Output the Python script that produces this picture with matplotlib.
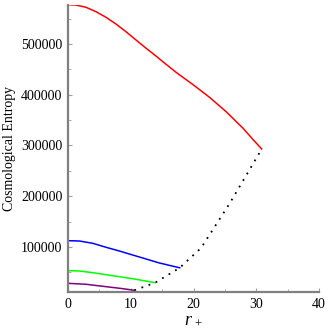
import matplotlib
matplotlib.use("Agg")
import matplotlib.pyplot as plt
from matplotlib.ticker import MultipleLocator

plt.rcParams['font.family'] = ['Liberation Serif', 'DejaVu Serif']
plt.rcParams['mathtext.fontset'] = 'custom'
plt.rcParams['mathtext.rm'] = 'Liberation Serif'
plt.rcParams['mathtext.it'] = 'Liberation Serif:italic'

# entropy curves
red_x = [0, 1.27, 2.87, 4.46, 6.06, 7.65, 9.24, 10.84, 12.43, 14.02, 15.5,
         17.3, 19.97, 22.6, 25.3, 27.9, 29.5, 30.87]
red_y = [577400, 576800, 572300, 563700, 552600, 539400, 524300, 507900, 491800, 476300, 461300,
         443500, 419500, 394500, 365500, 333900, 311500, 293100]

blue_x = [0, 1.8, 3.93, 6.06, 8.18, 10.3, 12.43, 14.55, 17.8]
blue_y = [112400, 111800, 107300, 99400, 92100, 84200, 76400, 68500, 59000]

green_x = [0, 1.8, 3.93, 6.06, 8.18, 10.3, 13.9]
green_y = [53300, 52700, 49400, 45400, 41500, 37500, 29700]

purple_x = [0, 2.87, 6.06, 8.7, 10.57]
purple_y = [28400, 26500, 21800, 17900, 14600]

# dotted locus through the end points
locus_x = [10.57, 13.9, 17.8, 21.2, 25.8, 30.87]
locus_y = [14600, 29700, 59000, 98000, 186700, 293100]

fig = plt.figure(figsize=(3.32, 3.32), dpi=100)
ax = fig.add_axes([0.2048, 0.1205, 0.7562, 0.8653])

ax.plot(red_x, red_y, color='#ff0000', lw=1.1)
ax.plot(blue_x, blue_y, color='#0000ff', lw=1.1)
ax.plot(green_x, green_y, color='#00ff00', lw=1.1)
ax.plot(purple_x, purple_y, color='#800080', lw=1.1)
ax.plot(locus_x, locus_y, color='black', lw=1.3, linestyle=(0, (1, 3.2)))

ax.set_xlim(0, 40)
ax.set_ylim(11300, 577400)
ax.xaxis.set_major_locator(MultipleLocator(10))
ax.xaxis.set_minor_locator(MultipleLocator(5))
ax.yaxis.set_major_locator(MultipleLocator(100000))
ax.yaxis.set_minor_locator(MultipleLocator(50000))

for s in ['top', 'right']:
    ax.spines[s].set_visible(False)
for s in ['left', 'bottom']:
    ax.spines[s].set_color('#808080')
    ax.spines[s].set_linewidth(1.6)

ax.tick_params(which='both', direction='in', color='#a0a0a0', labelsize=10)
ax.tick_params(which='major', length=3, pad=4)
ax.tick_params(which='minor', length=2)

ax.set_xlabel(r'$r_{\,+}$', fontsize=13, labelpad=0)
ax.set_ylabel('Cosmological Entropy', fontsize=10, labelpad=4)

fig.savefig('out.png', dpi=100)
